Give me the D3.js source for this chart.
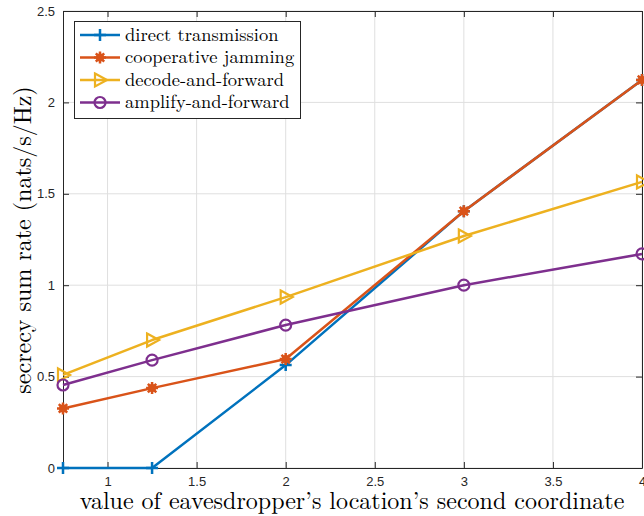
<!DOCTYPE html>
<html>
<head>
<meta charset="utf-8">
<script src="https://cdn.jsdelivr.net/npm/d3@7"></script>
<style>
  body { margin: 0; background: #fff; }
  svg { display: block; }
</style>
</head>
<body>
<div id="chart"></div>
<script>
// data
var xValues = [0.75, 1.25, 2, 3, 4];
var directTx = [0, 0, 0.563, 1.405, 2.123];
var coopJam = [0.326, 0.437, 0.596, 1.405, 2.123];
var decodeFwd = [0.509, 0.700, 0.935, 1.269, 1.565];
var amplifyFwd = [0.454, 0.590, 0.782, 1.000, 1.171];
var seriesNames = ["direct transmission", "cooperative jamming", "decode-and-forward", "amplify-and-forward"];
var xTicks = [1, 1.5, 2, 2.5, 3, 3.5, 4];
var yTicks = [0, 0.5, 1, 1.5, 2, 2.5];

var svgWidth = 644, svgHeight = 516;
var margin = { top: 11, left: 63, right: 2, bottom: 48 };
var width = svgWidth - margin.left - margin.right;
var height = svgHeight - margin.top - margin.bottom;

var colors = ["#0072BD", "#D95319", "#EDB120", "#7E2F8E"];
var markers = ["plus", "star", "tri", "circle"];
var allSeries = [directTx, coopJam, decodeFwd, amplifyFwd];
var serifFont = "'Latin Modern Roman', 'DejaVu Serif', serif";

var svg = d3.select("#chart").append("svg")
    .attr("width", svgWidth)
    .attr("height", svgHeight);

var chartGroup = svg.append("g")
    .attr("transform", `translate(${margin.left}, ${margin.top})`);

var xScale = d3.scaleLinear().domain([0.75, 4]).range([0, width]);
var yScale = d3.scaleLinear().domain([0, 2.5]).range([height, 0]);

// grid
chartGroup.append("g").selectAll("line")
    .data(xTicks).enter().append("line")
    .attr("x1", d => xScale(d)).attr("x2", d => xScale(d))
    .attr("y1", 0).attr("y2", height)
    .attr("stroke", "#dfdfdf").attr("stroke-width", 1);
chartGroup.append("g").selectAll("line")
    .data(yTicks).enter().append("line")
    .attr("y1", d => yScale(d)).attr("y2", d => yScale(d))
    .attr("x1", 0).attr("x2", width)
    .attr("stroke", "#dfdfdf").attr("stroke-width", 1);

// axes (ticks inward, box)
var axisColor = "#262626";
function styleAxis(g) {
    g.select(".domain").attr("stroke", axisColor).attr("stroke-width", 1);
    g.selectAll(".tick line").attr("stroke", axisColor);
    g.selectAll(".tick text").attr("fill", axisColor)
        .style("font-family", "'Liberation Sans', Arial, sans-serif")
        .style("font-size", "13px");
}
var fmt = d => String(d);
chartGroup.append("g")
    .attr("transform", `translate(0, ${height})`)
    .call(d3.axisBottom(xScale).tickValues(xTicks).tickFormat(fmt).tickSizeInner(-6).tickSizeOuter(0).tickPadding(9))
    .call(styleAxis);
chartGroup.append("g")
    .call(d3.axisLeft(yScale).tickValues(yTicks).tickFormat(fmt).tickSizeInner(-6).tickSizeOuter(0).tickPadding(8))
    .call(styleAxis);
chartGroup.append("g")
    .call(d3.axisTop(xScale).tickValues(xTicks).tickFormat("").tickSizeInner(-6).tickSizeOuter(0))
    .call(styleAxis);
chartGroup.append("g")
    .attr("transform", `translate(${width}, 0)`)
    .call(d3.axisRight(yScale).tickValues(yTicks).tickFormat("").tickSizeInner(-6).tickSizeOuter(0))
    .call(styleAxis);

// marker drawing
function drawMarker(g, type, color) {
    if (type == "plus") {
        g.append("path").attr("d", "M-6,0H6M0,-6V6")
            .attr("stroke", color).attr("stroke-width", 2.5).attr("fill", "none");
    } else if (type == "star") {
        g.append("path").attr("d", "M-6,0H6M0,-6V6M-4.2,-4.2L4.2,4.2M-4.2,4.2L4.2,-4.2")
            .attr("stroke", color).attr("stroke-width", 2.5).attr("fill", "none");
        g.append("circle").attr("r", 4).attr("fill", color);
    } else if (type == "tri") {
        g.append("path").attr("d", "M-5,-6.5L7,0L-5,6.5Z")
            .attr("stroke", color).attr("stroke-width", 2.2).attr("fill", "none");
    } else {
        g.append("circle").attr("r", 5.5)
            .attr("stroke", color).attr("stroke-width", 2.2).attr("fill", "none");
    }
}

var line = d3.line()
    .x((d, i) => xScale(xValues[i]))
    .y(d => yScale(d));

var plotGroup = chartGroup.append("g");
allSeries.forEach(function (vals, k) {
    plotGroup.append("path")
        .datum(vals)
        .attr("d", line)
        .attr("fill", "none")
        .attr("stroke", colors[k])
        .attr("stroke-width", 2.5)
        .attr("stroke-linejoin", "round");
    vals.forEach(function (v, i) {
        var m = plotGroup.append("g")
            .attr("transform", `translate(${xScale(xValues[i])}, ${yScale(v)})`);
        drawMarker(m, markers[k], colors[k]);
    });
});

// legend
var legend = svg.append("g").attr("transform", "translate(74, 21)");
legend.append("rect")
    .attr("x", 0.5).attr("y", 0.5)
    .attr("width", 226).attr("height", 97)
    .attr("fill", "#fff").attr("stroke", axisColor).attr("stroke-width", 1);
seriesNames.forEach(function (name, k) {
    var yy = 14 + k * 22.5;
    legend.append("line")
        .attr("x1", 6).attr("x2", 46).attr("y1", yy).attr("y2", yy)
        .attr("stroke", colors[k]).attr("stroke-width", 2.5);
    var m = legend.append("g").attr("transform", `translate(26, ${yy})`);
    drawMarker(m, markers[k], colors[k]);
    legend.append("text")
        .attr("x", 51).attr("y", yy)
        .attr("dy", "0.3em")
        .style("font-family", serifFont)
        .style("font-size", "18.5px")
        .attr("fill", "#000")
        .text(name);
});

// axis titles
svg.append("text")
    .attr("x", 352)
    .attr("y", 509)
    .attr("text-anchor", "middle")
    .style("font-family", serifFont)
    .style("font-size", "24px")
    .text("value of eavesdropper\u2019s location\u2019s second coordinate");

svg.append("text")
    .attr("transform", `translate(31, 240) rotate(-90)`)
    .attr("text-anchor", "middle")
    .style("font-family", serifFont)
    .style("font-size", "24px")
    .text("secrecy sum rate (nats/s/Hz)");
</script>
</body>
</html>
